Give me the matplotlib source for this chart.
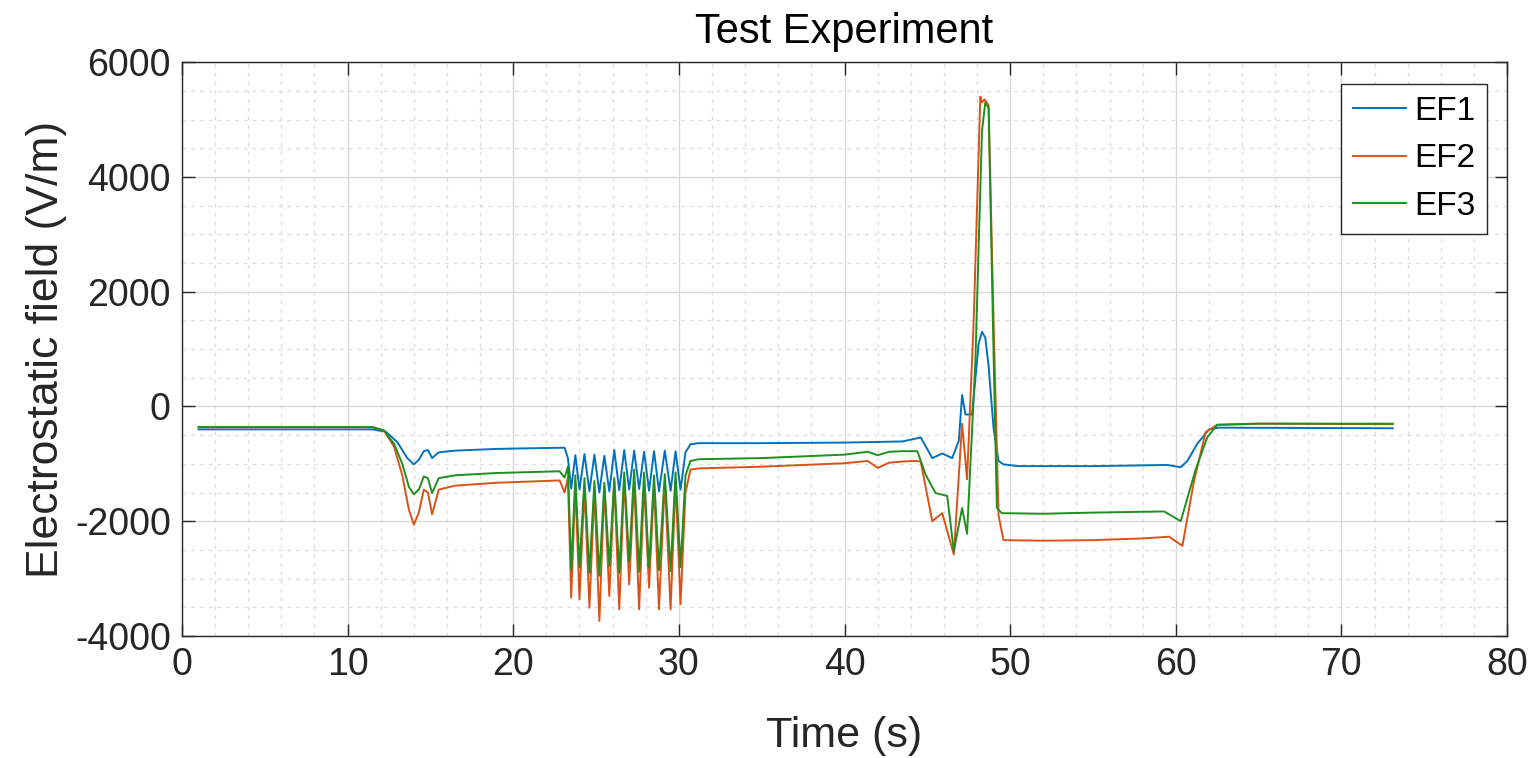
import matplotlib.pyplot as plt
from matplotlib.ticker import MultipleLocator

plt.rcParams['font.family'] = ['Liberation Sans', 'DejaVu Sans']
plt.rcParams['axes.unicode_minus'] = False

# EF1 key points (time in s, field in V/m)
t_ef1 = [1.0, 11.5, 12.3, 13.0, 13.6, 14.0, 14.3, 14.6, 14.85, 15.1, 15.5, 16.5, 19.0, 22.8, 23.1, 23.3,
         23.5, 23.75, 24.0, 24.3, 24.6, 24.9, 25.2, 25.5, 25.8, 26.1, 26.4, 26.7, 27.0, 27.3, 27.6, 27.9,
         28.2, 28.5, 28.8, 29.15, 29.5, 29.8, 30.1,
         30.4, 30.7, 31.2, 35.0, 40.0, 43.5, 44.3, 44.6, 45.3, 45.9, 46.5, 46.9, 47.1, 47.3, 47.7,
         48.1, 48.3, 48.5, 48.7, 49.0, 49.3, 49.6, 50.5, 55.0, 59.5, 60.3, 60.7, 61.3, 62.0, 62.6, 73.1]
ef1 = [-400, -400, -440, -620, -900, -1010, -930, -780, -760, -900, -800, -770, -740, -720, -720, -900,
       -1430, -850, -1450, -830, -1480, -840, -1500, -860, -1480, -760, -1460, -760, -1450, -770, -1440, -790,
       -1470, -780, -1480, -770, -1470, -780, -1450,
       -800, -660, -640, -640, -630, -610, -560, -540, -900, -820, -900, -600, 200, -140, -140,
       1100, 1300, 1200, 700, -380, -950, -1010, -1040, -1040, -1020, -1060, -950, -650, -400, -370, -380]

# EF2 key points
t_ef2 = [1.0, 11.5, 12.2, 12.8, 13.3, 13.7, 14.0, 14.3, 14.6, 14.85, 15.1, 15.5, 16.5, 19.0, 22.8, 23.1, 23.3,
         23.5, 23.75, 24.0, 24.3, 24.6, 24.9, 25.2, 25.5, 25.8, 26.1, 26.4, 26.7, 27.0, 27.3, 27.6, 27.9,
         28.2, 28.5, 28.8, 29.15, 29.5, 29.8, 30.1,
         30.4, 30.7, 31.2, 35.0, 40.0, 41.4, 42.0, 42.7, 43.5, 44.3, 44.6, 45.3, 45.9, 46.6, 47.1, 47.4,
         47.8, 48.2, 48.3, 48.45, 48.7, 49.0, 49.3, 49.6, 52.0, 55.0, 58.0, 59.6, 60.4, 61.1, 61.8, 62.5,
         65.0, 73.1]
ef2 = [-360, -360, -420, -700, -1200, -1800, -2060, -1850, -1450, -1500, -1880, -1450, -1380, -1330, -1290, -1500, -1250,
       -3334, -1350, -3362, -1400, -3508, -1450, -3739, -1400, -3304, -1300, -3536, -1250, -3101, -1300, -3536, -1350,
       -3160, -1350, -3536, -1300, -3536, -1300, -3449,
       -1500, -1100, -1080, -1050, -990, -950, -1070, -980, -960, -950, -960, -2000, -1860, -2580, -300, -1270,
       1500, 5400, 5300, 5350, 5250, 1500, -1900, -2330, -2340, -2330, -2300, -2270, -2430, -1300, -450, -320,
       -300, -310]

# EF3 key points
t_ef3 = [1.0, 11.5, 12.2, 12.8, 13.3, 13.7, 14.0, 14.3, 14.6, 14.85, 15.1, 15.5, 16.5, 19.0, 22.8, 23.1, 23.3,
         23.5, 23.75, 24.0, 24.3, 24.6, 24.9, 25.2, 25.5, 25.8, 26.1, 26.4, 26.7, 27.0, 27.3, 27.6, 27.9,
         28.2, 28.5, 28.8, 29.15, 29.5, 29.8, 30.1,
         30.4, 30.7, 31.2, 35.0, 40.0, 41.4, 42.0, 42.7, 43.5, 44.4, 44.9, 45.5, 46.2, 46.6, 47.1, 47.4,
         47.9, 48.3, 48.5, 48.7, 49.0, 49.2, 49.5, 52.0, 55.0, 59.3, 60.3, 61.2, 61.9, 62.5, 65.0, 73.1]
ef3 = [-360, -360, -420, -650, -1000, -1400, -1530, -1450, -1220, -1250, -1510, -1250, -1200, -1160, -1130, -1240, -1050,
       -2850, -1200, -2800, -1250, -2900, -1300, -2950, -1330, -2780, -1250, -2900, -1150, -2700, -1100, -2880, -1150,
       -2800, -1200, -2850, -1180, -2870, -1150, -2800,
       -1200, -950, -920, -900, -840, -790, -850, -790, -780, -780, -1190, -1510, -1560, -2520, -1770, -2220,
       780, 4800, 5300, 5200, 900, -1770, -1860, -1870, -1850, -1830, -2000, -1100, -540, -320, -300, -300]

labels = ['EF1', 'EF2', 'EF3']
colors = ['#0072BD', '#D95319', '#1f8f1f']

fig = plt.figure(figsize=(15.37, 7.58), dpi=100)
ax = fig.add_axes([0.1184, 0.161, 0.8621, 0.757])

ax.plot(t_ef1, ef1, color=colors[0], lw=1.4, label=labels[0])
ax.plot(t_ef2, ef2, color=colors[1], lw=1.4, label=labels[1])
ax.plot(t_ef3, ef3, color=colors[2], lw=1.4, label=labels[2])

ax.set_xlim(0, 80)
ax.set_ylim(-4000, 6000)
ax.xaxis.set_major_locator(MultipleLocator(10))
ax.xaxis.set_minor_locator(MultipleLocator(2))
ax.yaxis.set_major_locator(MultipleLocator(2000))
ax.yaxis.set_minor_locator(MultipleLocator(500))

ax.grid(which='major', color='#d9d9d9', lw=1.0)
ax.grid(which='minor', color='#dcdcdc', lw=0.9, linestyle=(0, (3, 4)))
ax.set_axisbelow(True)

ax.tick_params(which='major', direction='in', length=9, width=1, labelsize=27,
               top=True, right=True, color='#262626', labelcolor='#262626', pad=8)
ax.tick_params(which='minor', length=0, top=True, right=True)
for s in ax.spines.values():
    s.set_color('#262626')
    s.set_linewidth(1.0)

ax.set_title('Test Experiment', fontsize=30, color='black', pad=14)
ax.set_xlabel('Time (s)', fontsize=31, color='#262626', labelpad=24)
ax.set_ylabel('Electrostatic field (V/m)', fontsize=32, color='#262626', labelpad=6)

# legend box placed to match the reference (right ~1487 px, top ~84 px)
leg = ax.legend(loc='upper right', fontsize=24, fancybox=False, framealpha=1,
                edgecolor='#262626', handlelength=1.6, borderpad=0.35, labelspacing=0.5,
                handletextpad=0.25, borderaxespad=0, bbox_to_anchor=(0.985, 0.9617))
leg.get_frame().set_linewidth(1.0)

fig.savefig('out.png', dpi=100)
